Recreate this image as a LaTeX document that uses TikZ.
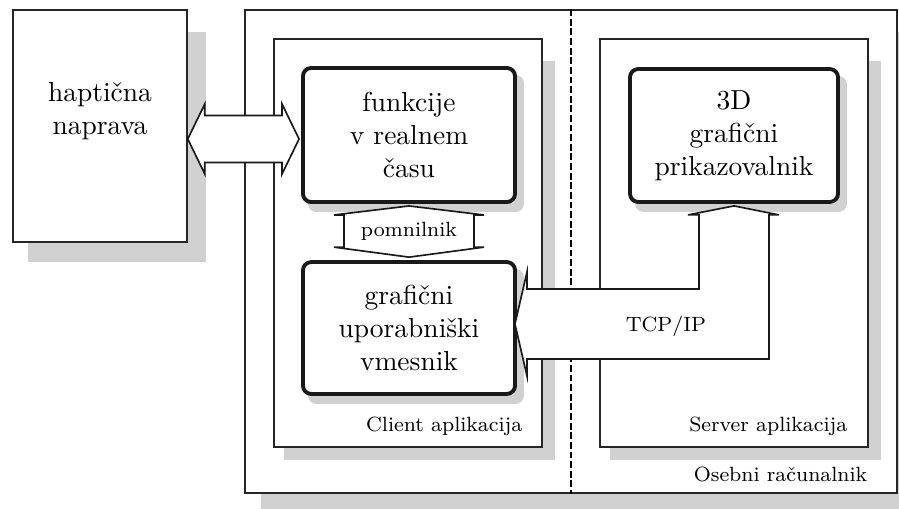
\documentclass[tikz,border=0pt]{standalone}
\usepackage{fontspec}
\usepackage{tikz}
\usetikzlibrary{calc,positioning,backgrounds}

\begin{document}
\begin{tikzpicture}[x=0.364pt, y=-0.364pt,
        box/.style={draw=black!85, semithick},
        roundbox/.style={draw=black!90, line width=1.4pt, fill=white, rounded corners=3pt, align=center, inner sep=0pt},
        shade/.style={fill=black!18},
        smalltxt/.style={font=\fontsize{7.5}{9}\selectfont, inner sep=0pt},
        fatarrow/.style={draw=black!90, semithick, fill=white, line join=miter}]
    \useasboundingbox (0,0) rectangle (899,508);
    \clip (0,0) rectangle (899,508);

    \node [box, minimum width=237.3pt, minimum height=175.8pt] at (571,251.5) (pc) {};
    \node [box, fill=white, minimum width=63.3pt, minimum height=84.4pt] at (100,126) (hapt) {};
    \node [align=center] at (100,111) (haptlabel) {haptična\\naprava};
    \node [box, minimum width=97.6pt, minimum height=148.5pt] at (408,243) (client) {};
    \node [box, minimum width=97.6pt, minimum height=148.5pt] at (734,243) (server) {};
    \node [roundbox, minimum width=77.2pt, minimum height=48.8pt] at (409,135) (rt) {funkcije\\v realnem\\času};
    \node [roundbox, minimum width=77.2pt, minimum height=48pt] at (409,328) (gui) {grafični\\uporabniški\\vmesnik};
    \node [roundbox, minimum width=75.7pt, minimum height=48.4pt] at (734,135.5) (viz) {3D\\grafični\\prikazovalnik};

    \node [smalltxt, anchor=base east] at ($(pc.south east)+(-30,-12)$) (pclabel) {Osebni računalnik};
    \node [smalltxt, anchor=base east] at ($(client.south east)+(-20,-16)$) (clientlabel) {Client aplikacija};
    \node [smalltxt, anchor=base east] at ($(server.south east)+(-21,-16)$) (serverlabel) {Server aplikacija};

    \coordinate (split) at ($(client.east)!0.5!(server.west)$);
    \draw [dash pattern=on 2.5pt off 1pt] (split |- pc.north) -- (split |- pc.south);

    \begin{scope}[on background layer]
        \fill [shade] ($(pc.north west)+(17,23)$) rectangle ($(pc.south east)+(17,19)$);
        \fill [white] (pc.north west) rectangle (pc.south east);
        \fill [shade] ($(hapt.north west)+(16,23)$) rectangle ($(hapt.south east)+(18,19)$);
        \foreach \n in {client,server}
            \fill [shade] ($(\n.north west)+(11,23)$) rectangle ($(\n.south east)+(12,12)$);
        \foreach \n in {client,server}
            \fill [white] (\n.north west) rectangle (\n.south east);
        \foreach \n in {rt,gui,viz}
            \fill [shade, rounded corners=3pt] ($(\n.north west)+(7,9)$) rectangle ($(\n.south east)+(7,8)$);
    \end{scope}

    \coordinate (ay) at (0,139);
    \coordinate (hl) at (hapt.east |- ay);
    \coordinate (hr) at ($(rt.west |- ay)+(-2,0)$);
    \draw [fatarrow] (hl) -- ++(17,-35) -- ++(0,11.5) -- ($(hr)+(-17,-23.5)$) -- ++(0,-11.5) -- (hr)
        -- ++(-17,35) -- ++(0,-11.5) -- ($(hl)+(17,23.5)$) -- ++(0,11.5) -- cycle;

    \coordinate (mt) at ($(rt.south)+(0,2)$);
    \coordinate (mb) at ($(gui.north)+(0,-3)$);
    \draw [fatarrow] (mt) -- ++(75,9) -- ++(-10,0) -- ($(mb)+(65,-10)$) -- ++(10,0) -- (mb)
        -- ++(-75,-10) -- ++(10,0) -- ($(mt)+(-65,9)$) -- ++(-10,0) -- cycle;
    \node [smalltxt] at ($(mt)!0.5!(mb)$) (mem) {pomnilnik};

    \coordinate (tl) at ($(gui.east)+(-2,-4)$);
    \coordinate (tt) at ($(viz.south)+(0,2)$);
    \draw [fatarrow] (tl) -- ++(12,-52) -- ++(0,17) -- ($(tt |- tl)+(-35,-35)$) -- ($(tt)+(-35,9)$) -- ++(-11,0) -- (tt)
        -- ++(45,9) -- ++(-10,0) -- ($(tt |- tl)+(35,35)$) -- ($(tl)+(12,35)$) -- ++(0,17) -- cycle;
    \node [smalltxt] at ($(tl)+(151,2)$) (tcp) {TCP/IP};
\end{tikzpicture}
\end{document}
